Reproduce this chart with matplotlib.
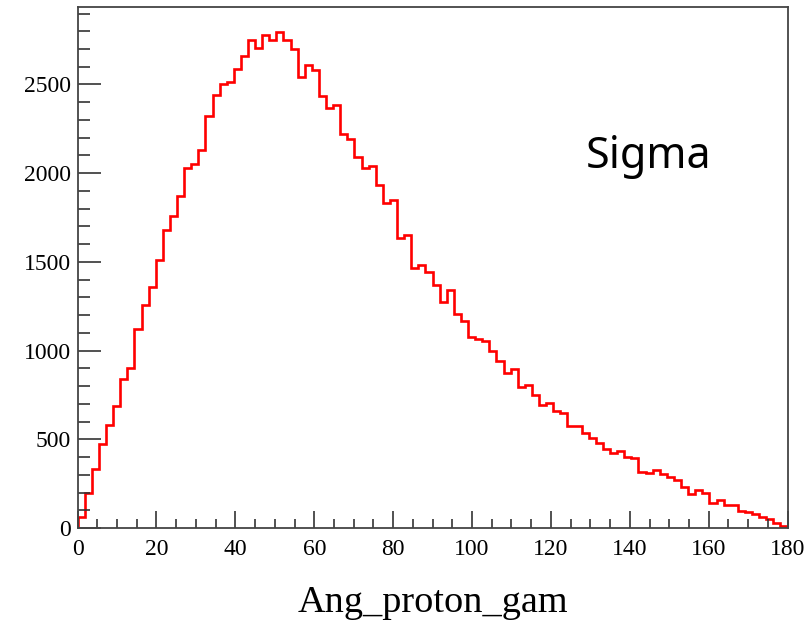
import numpy as np
import matplotlib
matplotlib.use("Agg")
import matplotlib.pyplot as plt
from matplotlib.ticker import MultipleLocator

# histogram of Ang_proton_gam, 100 bins from 0 to 180
x_min, x_max, n_bins = 0, 180, 100
counts = [62, 198, 330, 476, 580, 685, 840, 900, 1119, 1258,
          1360, 1510, 1678, 1761, 1872, 2030, 2054, 2128, 2323, 2443,
          2500, 2515, 2585, 2660, 2750, 2705, 2778, 2752, 2797, 2752,
          2701, 2543, 2611, 2583, 2436, 2370, 2387, 2220, 2195, 2092,
          2028, 2041, 1932, 1830, 1849, 1635, 1650, 1467, 1480, 1441,
          1370, 1272, 1342, 1208, 1168, 1078, 1065, 1052, 995, 944,
          873, 896, 794, 805, 749, 692, 704, 660, 647, 577,
          577, 534, 508, 478, 446, 423, 436, 402, 395, 316,
          310, 329, 305, 288, 271, 230, 194, 213, 199, 143,
          158, 130, 130, 98, 88, 77, 60, 51, 30, 11]
x_ticks = [0, 20, 40, 60, 80, 100, 120, 140, 160, 180]
y_ticks = [0, 500, 1000, 1500, 2000, 2500]
x_title = "Ang_proton_gam"
note = "Sigma"

edges = np.linspace(x_min, x_max, n_bins + 1)
counts = np.array(counts)

fig = plt.figure(figsize=(8.11, 6.25), dpi=100)
ax = fig.add_axes([0.0957, 0.1552, 0.8754, 0.8336])

ax.stairs(counts, edges, color="#ff0000", linewidth=1.9, baseline=0)

ax.set_xlim(x_min, x_max)
ax.set_ylim(0, 1.05 * counts.max())

ax.set_xticks(x_ticks)
ax.set_yticks(y_ticks)
ax.xaxis.set_minor_locator(MultipleLocator(5))
ax.yaxis.set_minor_locator(MultipleLocator(100))

# ROOT style: ticks inside, only on the left and bottom
ax.tick_params(which="both", direction="in", top=False, right=False,
               colors="#333333", width=1.2)
ax.tick_params(which="major", labelsize=17)
ax.tick_params(axis="y", which="major", length=16.5, pad=5)
ax.tick_params(axis="y", which="minor", length=8.6)
ax.tick_params(axis="x", which="major", length=12, pad=8)
ax.tick_params(axis="x", which="minor", length=6.7)
for lbl in ax.get_xticklabels() + ax.get_yticklabels():
    lbl.set_family("Liberation Serif")
    lbl.set_color("black")

for sp in ax.spines.values():
    sp.set_color("#444444")
    sp.set_linewidth(1.3)

ax.set_xlabel(x_title, family="Liberation Serif", fontsize=27.5, labelpad=18)

ax.text(0.716, 0.712, note, transform=ax.transAxes, family="Noto Sans",
        fontsize=31, va="center", ha="left")

fig.savefig("out.png", dpi=100)
